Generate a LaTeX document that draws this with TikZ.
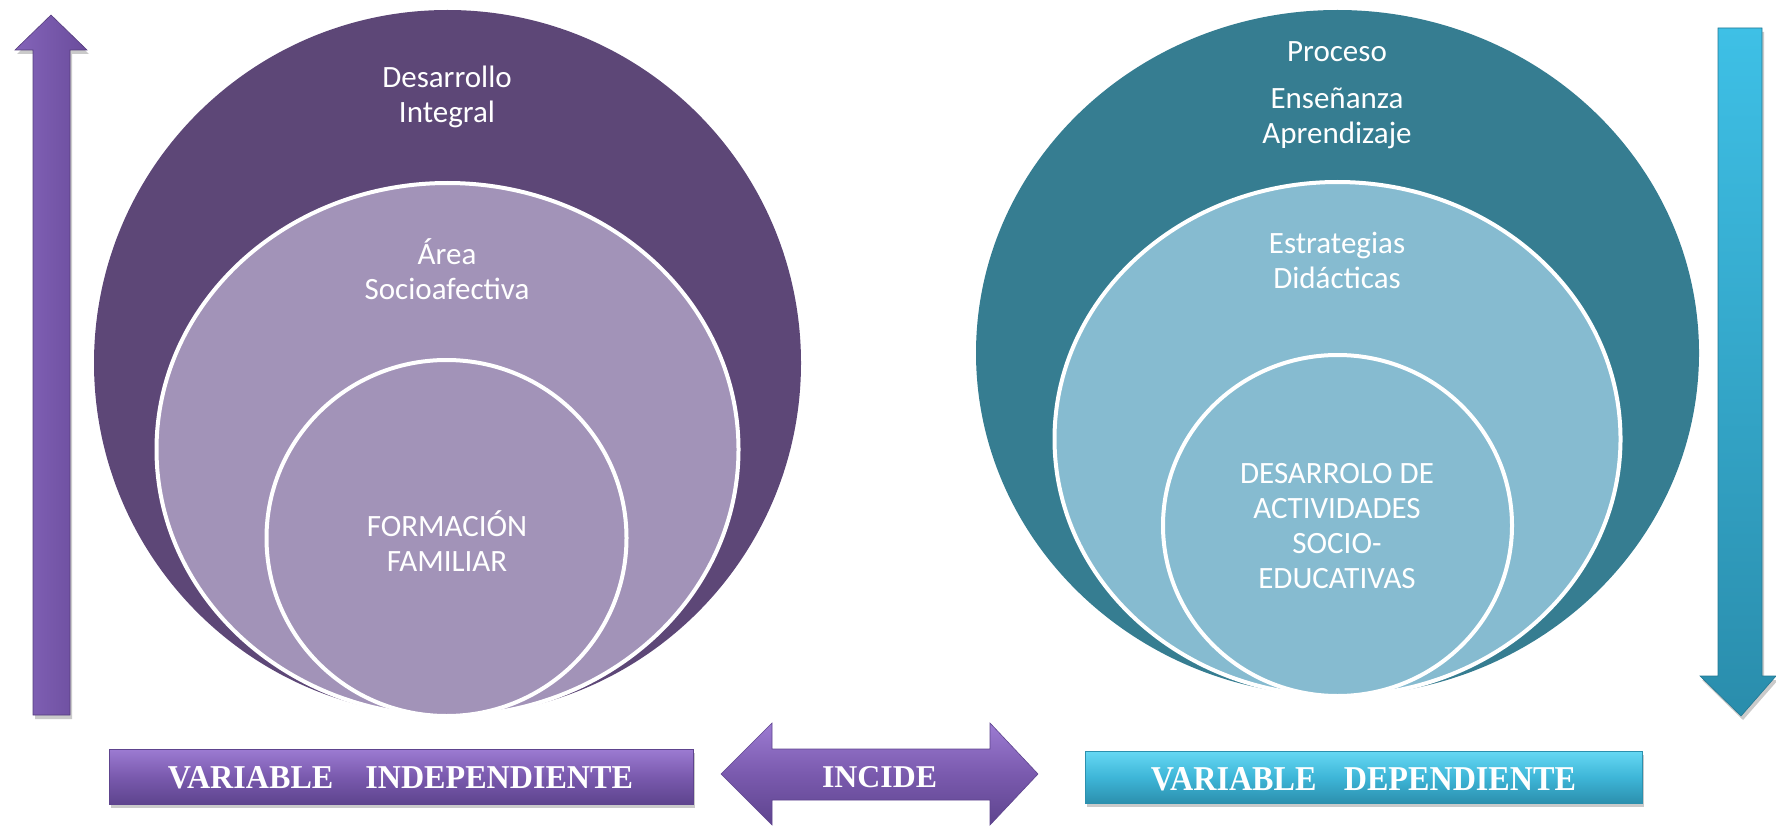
\documentclass[tikz,border=0pt]{standalone}
\usepackage{fontspec}
\setmainfont{Carlito}
\newfontfamily\tnr{Liberation Serif}
\usetikzlibrary{shapes.geometric,shadows}
\definecolor{outerP}{HTML}{5D4777}
\definecolor{innerP}{HTML}{A293B8}
\definecolor{outerT}{HTML}{367D91}
\definecolor{innerT}{HTML}{86BBD0}
\definecolor{boxPtop}{HTML}{9C7BD2}
\definecolor{boxPmid}{HTML}{7A5AAE}
\definecolor{boxPbot}{HTML}{5E448E}
\definecolor{boxTtop}{HTML}{66D8F3}
\definecolor{boxTmid}{HTML}{3EB6D8}
\definecolor{boxTbot}{HTML}{2C90AE}
\definecolor{arrPl}{HTML}{8464B9}
\definecolor{arrPr}{HTML}{6A4C9C}
\definecolor{arrTt}{HTML}{3EC0E6}
\definecolor{arrTb}{HTML}{2A8DAC}
\tikzset{
  ring/.style={ellipse, inner sep=0pt, outer sep=0pt},
  bord/.style={draw=white, line width=4pt},
  ctext/.style={text=white, font=\fontsize{31}{35}\selectfont, align=center, inner sep=0pt},
  btext/.style={text=white, inner sep=0pt},
  shad/.style={drop shadow={shadow xshift=2pt, shadow yshift=-4pt, opacity=0.35, fill=black!60}},
  pbox/.style={rectangle, inner sep=0pt, top color=boxPtop, bottom color=boxPbot, middle color=boxPmid, draw=boxPbot, line width=0.8pt, shad},
  tbox/.style={rectangle, inner sep=0pt, top color=boxTtop, bottom color=boxTbot, middle color=boxTmid, draw=boxTbot, line width=0.8pt, shad}
}
\begin{document}
\begin{tikzpicture}[x=1pt,y=-1pt]
\useasboundingbox (0,0) rectangle (1776,826);

% left nested circles
\node[ring, fill=outerP, minimum width=707pt, minimum height=706pt] (lo) at (447.5,363) {};
\node[ring, fill=innerP, bord, minimum width=582pt, minimum height=533pt] (lm) at (447.5,449.5) {};
\node[ring, fill=innerP, bord, minimum width=360pt, minimum height=356pt] (li) at (446.5,538) {};

% right nested circles
\node[ring, fill=outerT, minimum width=723pt, minimum height=686pt] (ro) at (1337.5,353) {};
\node[ring, fill=innerT, bord, minimum width=566pt, minimum height=514pt] (rm) at (1337.5,439) {};
\node[ring, fill=innerT, bord, minimum width=349pt, minimum height=341pt] (ri) at (1337.5,525.5) {};

% circle texts
\node[ctext] (t1) at (447,97) {Desarrollo\\Integral};
\node[ctext] (t2) at (447,269) {Área\\Socioafectiva};
\node[ctext] (t3) at (447,541) {FORMACIÓN\\FAMILIAR};
\node[ctext] (t4) at (1337,52) {Proceso};
\node[ctext] (t5) at (1337,118) {Enseñanza\\Aprendizaje};
\node[ctext] (t6) at (1337,260) {Estrategias\\Didácticas};
\node[ctext] (t7) at (1337,526) {DESARROLO DE\\ACTIVIDADES\\SOCIO-\\EDUCATIVAS};

% left up arrow
\path[left color=arrPl, right color=arrPr, draw=arrPr!80!black, line width=0.6pt, shad]
  (33,715) -- (33,50) -- (15,50) -- (51,15) -- (87,50) -- (70,50) -- (70,715) -- cycle;

% right down arrow
\path[top color=arrTt, bottom color=arrTb, draw=arrTb!85!black, line width=0.6pt, shad]
  (1718,28) -- (1762,28) -- (1762,676) -- (1776,676) -- (1741,716) -- (1700,676) -- (1718,676) -- cycle;

% INCIDE double arrow
\path[top color=boxPtop, bottom color=boxPbot, middle color=boxPmid, draw=boxPbot, line width=0.6pt]
  (721,774) -- (772,723) -- (772,749) -- (990,749) -- (990,723) -- (1038,774)
  -- (990,825) -- (990,800) -- (772,800) -- (772,825) -- cycle;
\node[btext] (inc) at (879.5,777) {\resizebox{115pt}{21pt}{\tnr\bfseries INCIDE}};

% bottom boxes
\node[pbox, minimum width=584pt, minimum height=55pt] (vi) at (401,776.5) {};
\node[btext] (vit) at (400.5,778) {\resizebox{465pt}{22pt}{\tnr\bfseries VARIABLE\hspace{1em}INDEPENDIENTE}};
\node[tbox, minimum width=557pt, minimum height=52pt] (vd) at (1363.5,777) {};
\node[btext] (vdt) at (1363.5,779.5) {\resizebox{425pt}{23pt}{\tnr\bfseries VARIABLE\hspace{0.85em}DEPENDIENTE}};
\end{tikzpicture}
\end{document}
